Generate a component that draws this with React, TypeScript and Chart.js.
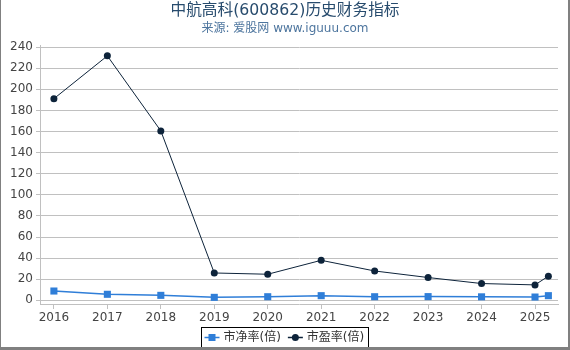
import React, { useEffect, useRef } from "react";
import { Chart, registerables } from "chart.js";

Chart.register(...registerables);

const titleText = "中航高科(600862)历史财务指标";
const subtitleText = "来源: 爱股网 www.iguuu.com";
const xValues = [2016, 2017, 2018, 2019, 2020, 2021, 2022, 2023, 2024, 2025, 2025.25];
const xTickYears = [2016, 2017, 2018, 2019, 2020, 2021, 2022, 2023, 2024, 2025];
const yTickValues = [0, 20, 40, 60, 80, 100, 120, 140, 160, 180, 200, 220, 240];
const pbLabel = "市净率(倍)";
const peLabel = "市盈率(倍)";
const pbValues = [8.8, 5.7, 4.7, 2.8, 3.4, 4.4, 3.4, 3.5, 3.3, 3.1, 4.4];
const peValues = [191.1, 231.7, 160.6, 25.9, 24.7, 37.9, 27.8, 21.6, 15.9, 14.6, 22.9];

const FONT = "'DejaVu Sans', 'Noto Sans CJK SC', sans-serif";
const PB_COLOR = "#2f7ed8";
const PE_COLOR = "#0d233a";

const decorPlugin = {
  id: "decor",
  afterDraw(chart: any) {
    const ctx = chart.ctx as CanvasRenderingContext2D;
    const cx = chart.width / 2;
    ctx.save();
    ctx.textAlign = "center";
    ctx.textBaseline = "middle";
    ctx.fillStyle = "#274b6d";
    ctx.font = `15.7px ${FONT}`;
    ctx.fillText(titleText, cx, 11);
    ctx.fillStyle = "#4d759e";
    ctx.font = `12px ${FONT}`;
    ctx.fillText(subtitleText, cx, 29);

    // legend
    const items = chart.data.datasets.map((ds: any) => ({
      label: ds.label,
      color: ds.borderColor,
      style: ds.pointStyle,
    }));
    ctx.font = `12px ${FONT}`;
    const lineLen = 15, gap = 4, itemGap = 7, padL = 3, padR = 4;
    const widths = items.map((it: any) => lineLen + gap + ctx.measureText(it.label).width);
    const total = padL + widths.reduce((a: number, b: number) => a + b, 0) + itemGap * (items.length - 1) + padR;
    const boxX = Math.round(cx - total / 2) - 0.5;
    const boxY = 327.5, boxH = 20;
    ctx.strokeStyle = "#000";
    ctx.lineWidth = 1;
    ctx.strokeRect(boxX, boxY, Math.round(total), boxH);
    let x = boxX + padL;
    const cy = boxY + boxH / 2;
    items.forEach((it: any, i: number) => {
      ctx.strokeStyle = it.color;
      ctx.lineWidth = 1.5;
      ctx.beginPath();
      ctx.moveTo(x, cy);
      ctx.lineTo(x + lineLen, cy);
      ctx.stroke();
      ctx.fillStyle = it.color;
      const mx = x + lineLen / 2;
      if (it.style === "rect") {
        ctx.fillRect(mx - 3.5, cy - 3.5, 7, 7);
      } else {
        ctx.beginPath();
        ctx.arc(mx, cy, 3.5, 0, Math.PI * 2);
        ctx.fill();
      }
      ctx.fillStyle = "#333";
      ctx.textAlign = "left";
      ctx.fillText(it.label, x + lineLen + gap, cy + 0.5);
      x += widths[i] + itemGap;
    });

    // frame
    ctx.fillStyle = "#808080";
    ctx.fillRect(0, 0, 1, chart.height);
    ctx.fillRect(chart.width - 2, 0, 2, chart.height);
    ctx.fillRect(0, chart.height - 3, chart.width, 3);
    ctx.restore();
  },
};

export default function App() {
  const ref = useRef<HTMLCanvasElement | null>(null);
  useEffect(() => {
    if (!ref.current) return;
    const chart = new Chart(ref.current, {
      type: "line",
      data: {
        datasets: [
          {
            label: pbLabel,
            data: xValues.map((x, i) => ({ x, y: pbValues[i] })),
            borderColor: PB_COLOR,
            backgroundColor: PB_COLOR,
            borderWidth: 1.5,
            pointStyle: "rect",
            pointRadius: 5,
            pointBorderWidth: 0,
            tension: 0,
          },
          {
            label: peLabel,
            data: xValues.map((x, i) => ({ x, y: peValues[i] })),
            borderColor: PE_COLOR,
            backgroundColor: PE_COLOR,
            borderWidth: 1,
            pointStyle: "circle",
            pointRadius: 3.5,
            pointBorderWidth: 0,
            tension: 0,
          },
        ],
      },
      options: {
        responsive: false,
        animation: false,
        layout: { padding: { top: 45, right: 12, left: 0, bottom: 0 } },
        plugins: {
          legend: { display: false },
          title: { display: false },
          tooltip: { enabled: false },
        },
        scales: {
          x: {
            type: "linear",
            min: 2015.74,
            max: 2025.43,
            afterBuildTicks: (s: any) => {
              s.ticks = xTickYears.map((v) => ({ value: v }));
            },
            afterFit: (s: any) => {
              s.height = 46;
            },
            grid: { drawOnChartArea: false, drawTicks: true, tickLength: 5, color: "#C0C0C0" },
            border: { display: true, color: "#C0C0C0" },
            ticks: {
              font: { family: FONT, size: 12 },
              color: "#444",
              padding: 2,
              maxRotation: 0,
              autoSkip: false,
              callback: (v: any) => String(v),
            },
          },
          y: {
            type: "linear",
            min: -3.5,
            max: 242,
            afterBuildTicks: (s: any) => {
              s.ticks = yTickValues.map((v) => ({ value: v }));
            },
            afterFit: (s: any) => {
              s.width = 40;
            },
            grid: { color: "#C0C0C0", tickLength: 4 },
            border: { display: true, color: "#C0C0C0" },
            ticks: {
              font: { family: FONT, size: 12 },
              color: "#444",
              padding: 3,
              callback: (v: any) => String(v),
            },
          },
        },
      },
      plugins: [decorPlugin],
    });
    return () => chart.destroy();
  }, []);
  return (
    <div style={{ position: "fixed", left: 0, top: 0, width: 570, height: 350, background: "#fff" }}>
      <canvas ref={ref} width={570} height={350} style={{ width: 570, height: 350, display: "block" }} />
    </div>
  );
}
